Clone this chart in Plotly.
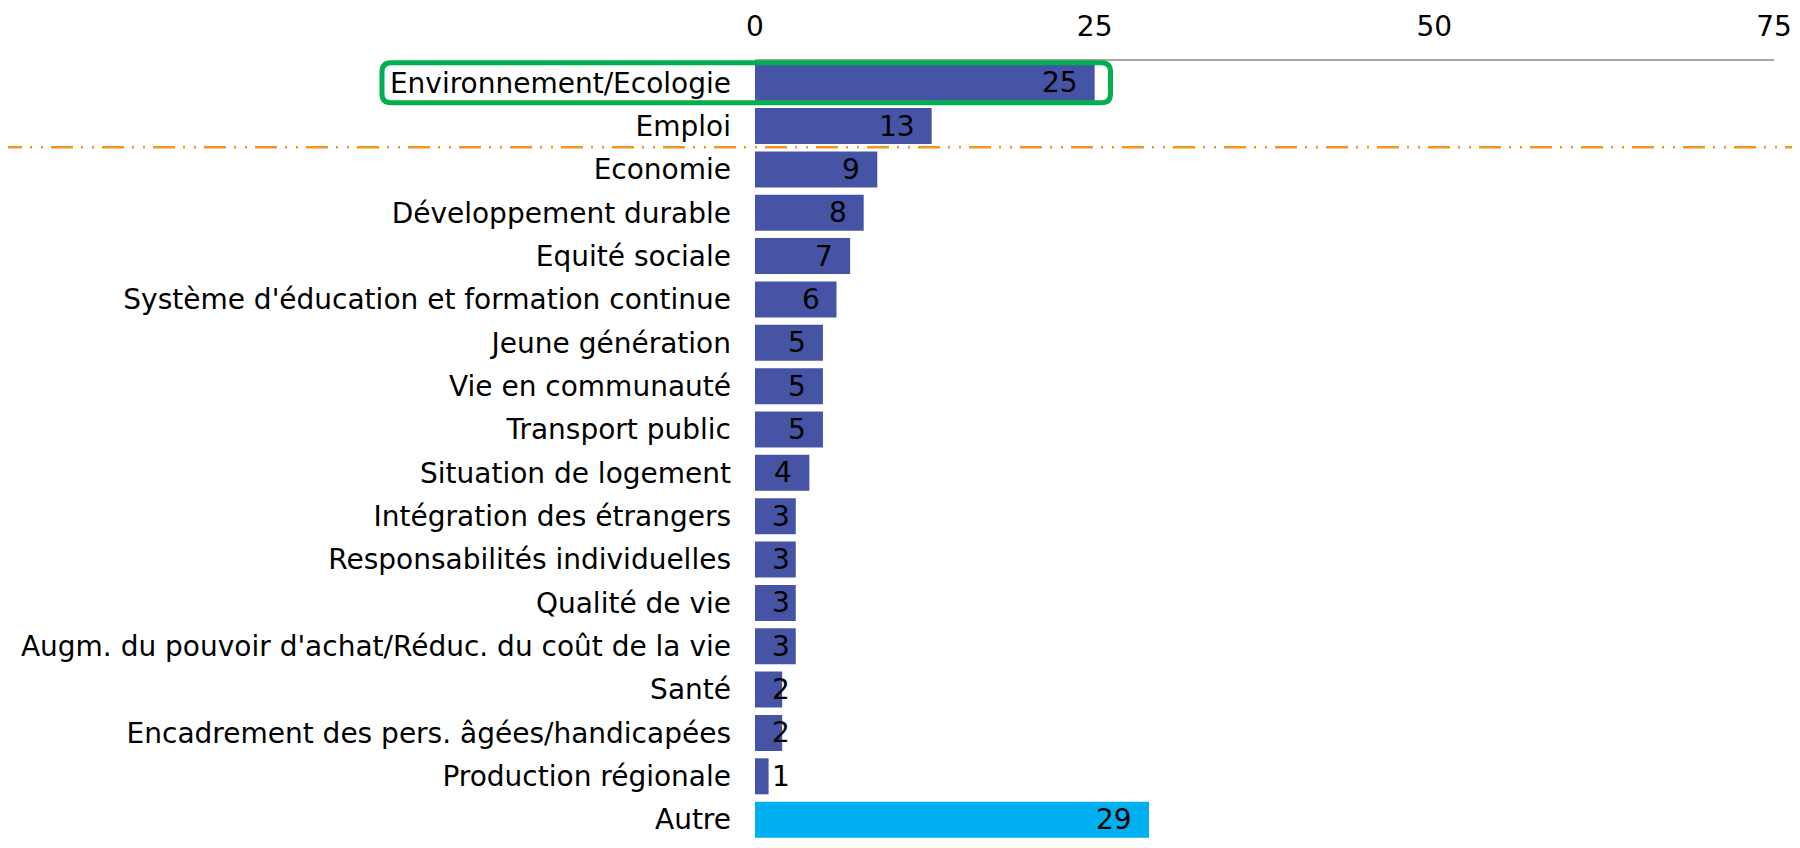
import plotly.graph_objects as go

categories = [
    "Environnement/Ecologie", "Emploi", "Economie", "Développement durable",
    "Equité sociale", "Système d'éducation et formation continue",
    "Jeune génération", "Vie en communauté", "Transport public",
    "Situation de logement", "Intégration des étrangers",
    "Responsabilités individuelles", "Qualité de vie",
    "Augm. du pouvoir d'achat/Réduc. du coût de la vie", "Santé",
    "Encadrement des pers. âgées/handicapées", "Production régionale", "Autre",
]
values = [25, 13, 9, 8, 7, 6, 5, 5, 5, 4, 3, 3, 3, 3, 2, 2, 1, 29]
x_ticks = [0, 25, 50, 75]

OFF = 8  # page body margin
W, H = 1800 - 2 * OFF, 848 - 2 * OFF
L, T, B = 755 - OFF, 61 - OFF, 0
R = W - (1774 - OFF)
PW, PH = W - L - R, H - T - B
XMAX = 75
FONT = "DejaVu Sans"
FS = 28
SLOT = 43.35
FIRST_C = 82.7 - OFF  # centre of first bar in figure px
y_top = -(FIRST_C - T) / SLOT
y_bot = (H - B - FIRST_C) / SLOT

MAIN = "#4654A5"
OTHER = "#00B0F0"
colors = [OTHER if c == "Autre" else MAIN for c in categories]

fig = go.Figure()
fig.add_trace(go.Bar(
    y=categories, x=values, orientation="h",
    marker=dict(color=colors, line=dict(width=0)),
    hoverinfo="skip",
))

# value labels (Excel "inside end" style, clamped at the base)
pad = 17
digit_w = 17
for c, v in zip(categories, values):
    bar_px = v / XMAX * PW
    w = digit_w * len(str(v))
    if bar_px - pad - w >= pad:
        fig.add_annotation(x=v, y=c, xref="x", yref="y", text=str(v),
                           xanchor="right", xshift=-pad + 2, showarrow=False,
                           font=dict(family=FONT, size=FS, color="black"))
    else:
        fig.add_annotation(x=0, y=c, xref="x", yref="y", text=str(v),
                           xanchor="left", xshift=pad - 2, showarrow=False,
                           font=dict(family=FONT, size=FS, color="black"))


def px_x(p):  # page pixel -> paper
    return (p - OFF - L) / PW


def px_y(p):
    return (H - B - (p - OFF)) / PH


# green rounded highlight box
x0, x1, y0, y1, r = 382, 1110.5, 62.7, 102.7, 9
path = (
    f"M {px_x(x0 + r)},{px_y(y0)} L {px_x(x1 - r)},{px_y(y0)} "
    f"Q {px_x(x1)},{px_y(y0)} {px_x(x1)},{px_y(y0 + r)} "
    f"L {px_x(x1)},{px_y(y1 - r)} "
    f"Q {px_x(x1)},{px_y(y1)} {px_x(x1 - r)},{px_y(y1)} "
    f"L {px_x(x0 + r)},{px_y(y1)} "
    f"Q {px_x(x0)},{px_y(y1)} {px_x(x0)},{px_y(y1 - r)} "
    f"L {px_x(x0)},{px_y(y0 + r)} "
    f"Q {px_x(x0)},{px_y(y0)} {px_x(x0 + r)},{px_y(y0)} Z"
)
fig.add_shape(type="path", path=path, xref="paper", yref="paper",
              line=dict(color="#00B050", width=5), layer="above")

# orange dash-dot-dot separator
ly = 147.3
fig.add_shape(type="line", xref="paper", yref="paper",
              x0=px_x(0), x1=px_x(1800), y0=px_y(ly), y1=px_y(ly),
              line=dict(color="#F7941D", width=2.5,
                        dash="22px,8px,2px,9px,2px,8px"))

fig.update_layout(
    width=W, height=H,
    margin=dict(l=L, r=R, t=T, b=B, pad=0),
    paper_bgcolor="white", plot_bgcolor="white",
    showlegend=False, bargap=1 - 36 / SLOT,
    font=dict(family=FONT, size=FS, color="black"),
    xaxis=dict(side="top", range=[0, XMAX], tickvals=x_ticks,
               ticktext=[str(t) for t in x_ticks], automargin=False,
               showgrid=False, zeroline=False, showline=True,
               linecolor="#A6A6A6", linewidth=2, ticks="",
               ticklabelstandoff=12,
               tickfont=dict(family=FONT, size=FS, color="black")),
    yaxis=dict(range=[y_bot, y_top], showgrid=False, zeroline=False,
               showline=False, ticks="", ticklabelstandoff=23,
               automargin=False,
               tickfont=dict(family=FONT, size=FS, color="black")),
)

fig.write_html("out.html")
